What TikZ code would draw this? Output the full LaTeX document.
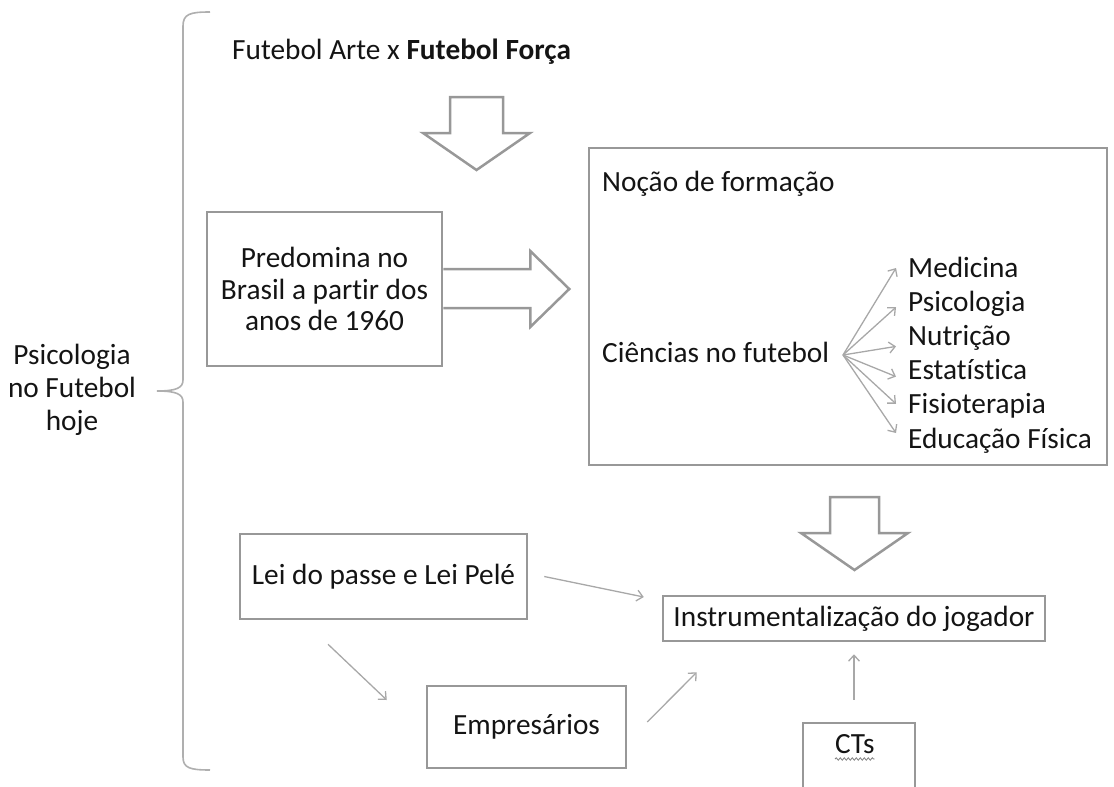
\documentclass[tikz,border=0pt]{standalone}
\usepackage{fontspec}
\setmainfont{Carlito}[Ligatures=NoCommon]
\usetikzlibrary{positioning, calc, arrows.meta, decorations.pathmorphing}

\definecolor{inkgray}{RGB}{20,20,20}
\definecolor{boxgray}{RGB}{152,152,152}
\definecolor{linkgray}{RGB}{168,168,168}
\definecolor{bracegray}{RGB}{175,175,175}

\begin{document}
\begin{tikzpicture}[x=1pt, y=-1pt,
    every node/.style={text=inkgray, font=\fontsize{29.3}{31.5}\selectfont},
    box/.style={draw=boxgray, line width=2.5pt, align=center},
    txt/.style={inner sep=0pt, anchor=base west},
    link/.style={draw=linkgray, line width=1.3pt, -{Straight Barb[length=6pt, width=11pt]}},
    fat/.style={draw=boxgray, line width=2.5pt, line join=miter}]
    \useasboundingbox (0,0) rectangle (1114,787);

    % left brace and its label
    \node[align=center, font=\fontsize{29.3}{33}\selectfont] (psic) at (72,390) {Psicologia\\no Futebol\\hoje};
    \draw[draw=bracegray, line width=1.6pt] (210,12) .. controls (190,12) and (183,14) .. (183,26)
        -- (183,380) .. controls (183,388) and (176,391) .. (157,391)
        .. controls (176,391) and (183,394) .. (183,402)
        -- (183,757) .. controls (183,768) and (190,770) .. (210,770);

    % upper part
    \node[txt] (titulo) at (232,59) {Futebol Arte x \textbf{Futebol Força}};
    \node[box, minimum width=235pt, minimum height=154pt] (pred) at (324.5,289) {Predomina no\\Brasil a partir dos\\anos de 1960};
    \node[box, minimum width=518pt, minimum height=317pt] (formacao) at (848,306.5) {};
    \node[txt] (nocao) at (602,191) {Noção de formação};
    \node[txt] (ciencias) at (602,362) {Ciências no futebol};
    \coordinate (fan) at (843,355);
    \foreach \i/\area/\dy in {0/Medicina/9, 1/Psicologia/4, 2/Nutrição/-1, 3/Estatística/3, 4/Fisioterapia/10, 5/Educação Física/15} {
        \node[txt] (sci\i) at (908,277+34.2*\i) {\area};
        \draw[link] (fan) -- ([xshift=-12pt, yshift=\dy pt]sci\i.base west);
    }

    % block arrows
    \draw[fat] ($(pred.east)+(0,-20)$) -- ++(87,0) -- ++(0,-18) -- ++(39,38)
        -- ++(-39,38) -- ++(0,-19) -- ++(-87,0);
    \foreach \cx/\ty/\sw in {476.5/97/26.5, 854.5/497/24.5}
        \draw[fat] (\cx-\sw,\ty) -- (\cx+\sw,\ty) -- (\cx+\sw,\ty+36) -- (\cx+53.5,\ty+36)
            -- (\cx,\ty+73) -- (\cx-53.5,\ty+36) -- (\cx-\sw,\ty+36) -- cycle;

    % lower part
    \node[box, minimum width=382pt, minimum height=45pt] (instr) at (854,618.5) {Instrumentalização do jogador};
    \node[box, minimum width=287pt, minimum height=85pt] (lei) at (383.5,576.5) {Lei do passe e Lei Pelé};
    \node[box, minimum width=199pt, minimum height=82pt] (emp) at (526.5,727) {Empresários};
    \node[box, minimum width=112pt, minimum height=66pt] (cts) at (859,756) {};
    \node[txt] (ctstxt) at (835,753) {CTs};
    \draw[draw=gray, line width=0.8pt, decorate, decoration={snake, amplitude=1.2pt, segment length=4pt}]
        ([yshift=-6pt]ctstxt.base west) -- ([yshift=-6pt]ctstxt.base east);

    \draw[link] ([xshift=16pt]lei.east) -- ([xshift=-18pt, yshift=21.5pt]instr.west);
    \draw[link] ([xshift=-55.5pt, yshift=-24pt]lei.south) -- ([xshift=-39pt, yshift=27pt]emp.west);
    \draw[link] ([xshift=20pt, yshift=5pt]emp.east) -- ([xshift=35pt, yshift=-30pt]instr.south west);
    \draw[link] ([xshift=-5pt, yshift=22pt]cts.north) -- ([yshift=-12pt]instr.south);
\end{tikzpicture}
\end{document}
